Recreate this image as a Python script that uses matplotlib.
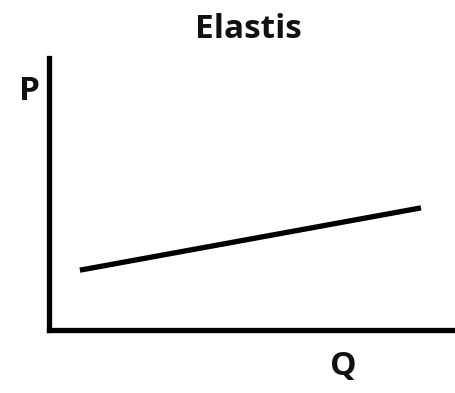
import matplotlib
matplotlib.use('Agg')
import matplotlib.pyplot as plt
import numpy as np

# supply curve points (arbitrary units)
q = [0.76, 9.14]
p = [2.2, 4.49]

W, H = 456, 393
fig = plt.figure(figsize=(W/100, H/100), dpi=100)
ax = fig.add_axes([49/W, 1-330/H, 1-49/W, (330-58)/H])

ax.plot(q, p, color='black', lw=3.8, solid_capstyle='butt')
ax.set_xlim(0, 10)
ax.set_ylim(0, 10)

for s in ['top', 'right']:
    ax.spines[s].set_visible(False)
for s in ['left', 'bottom']:
    ax.spines[s].set_linewidth(3.8)
    ax.spines[s].set_color('black')
ax.set_xticks([])
ax.set_yticks([])

fnt = dict(family=['Open Sans', 'DejaVu Sans'], weight='bold', color='#111111')
fig.text(248/W, 1-30/H, 'Elastis', ha='center', va='center', fontsize=24, **fnt)
fig.text(30/W, 1-92/H, 'P', ha='center', va='center', fontsize=24, **fnt)
fig.text(343/W, 1-366/H, 'Q', ha='center', va='center', fontsize=24, **fnt)

fig.savefig('out.png', dpi=100)
